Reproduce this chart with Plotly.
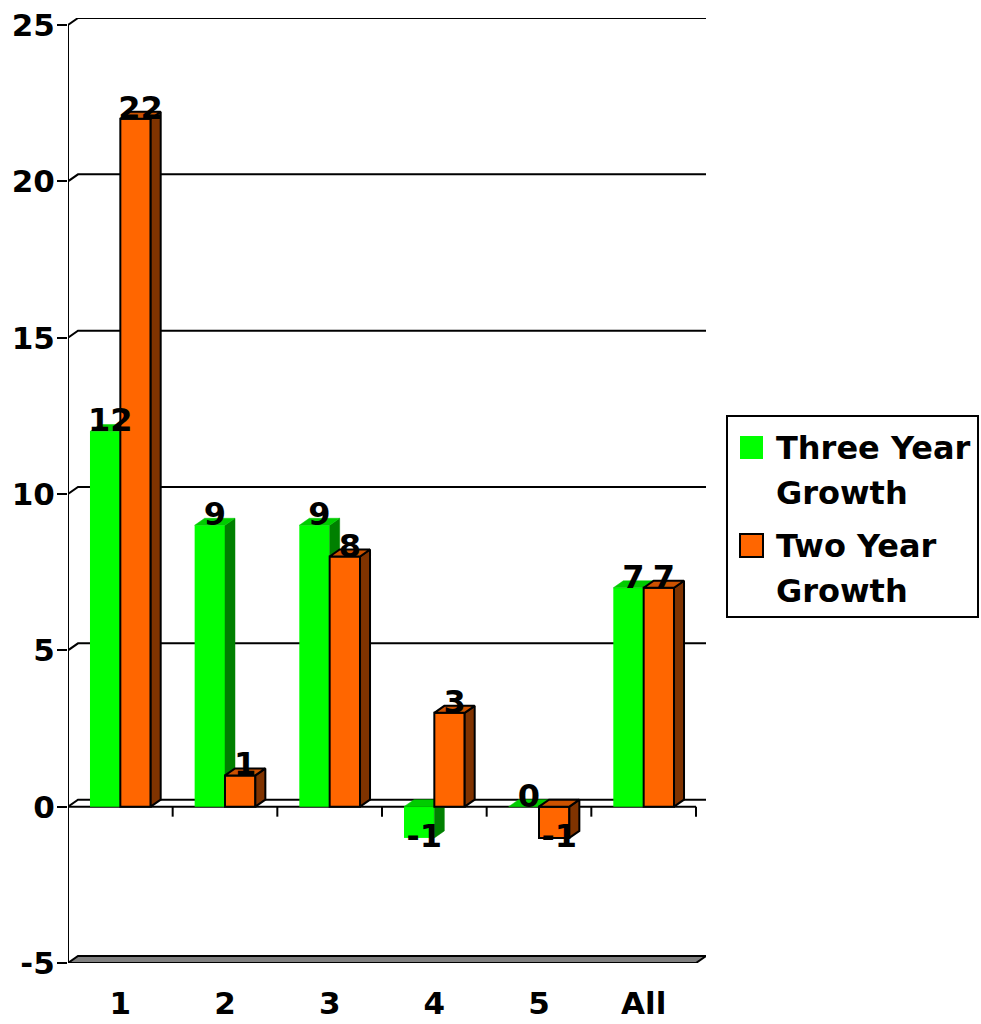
import plotly.graph_objects as go

# ---------------- data ----------------
categories = ["1", "2", "3", "4", "5", "All"]
three_year = [12, 9, 9, -1, 0, 7]
two_year = [22, 1, 8, 3, -1, 7]
y_tick_vals = [-5, 0, 5, 10, 15, 20, 25]
legend_lines = [["Three Year", "Growth"], ["Two Year", "Growth"]]

# ---------------- geometry / style ----------------
FONT = "DejaVu Sans, Liberation Sans, Arial, sans-serif"
W, H = 981, 1024
ML, MR, MT, MB = 68, 275, 18, 61
plot_w = W - ML - MR
plot_h = H - MT - MB
DEPTH_X_PX, DEPTH_Y_PX = 10, 7
n = len(categories)
XMIN, XMAX0 = -0.5, n - 0.5
YMIN, YMAX0 = min(y_tick_vals), max(y_tick_vals)
DX = DEPTH_X_PX * (XMAX0 - XMIN) / (plot_w - DEPTH_X_PX)
DY = DEPTH_Y_PX * (YMAX0 - YMIN) / (plot_h - DEPTH_Y_PX)
PX_Y = (plot_h - DEPTH_Y_PX) / (YMAX0 - YMIN)  # px per unit
BAR_W = 0.29

series = [
    dict(vals=three_year, offset=-BAR_W, front="#00FF00", top="#00CC00", side="#008000",
         line=None, xa="x", ya="y"),
    dict(vals=two_year, offset=0.0, front="#FF6600", top="#CC5200", side="#803300",
         line="black", xa="x2", ya="y2"),
]

fig = go.Figure()

for s in series:
    xs = list(range(n))
    fig.add_trace(go.Bar(
        x=xs, y=s["vals"], width=BAR_W, offset=s["offset"],
        marker=dict(color=s["front"],
                    line=dict(color=s["line"] or s["front"], width=2 if s["line"] else 0)),
        xaxis=s["xa"], yaxis=s["ya"], showlegend=False, hoverinfo="skip",
    ))
    tx, ty, sx, sy = [], [], [], []
    for i, v in zip(xs, s["vals"]):
        top, bot = max(v, 0), min(v, 0)
        x0 = i + s["offset"]
        x1 = x0 + BAR_W
        tx += [x0, x1, x1 + DX, x0 + DX, x0, None]
        ty += [top, top, top + DY, top + DY, top, None]
        sx += [x1, x1 + DX, x1 + DX, x1, x1, None]
        sy += [bot, bot + DY, top + DY, top, bot, None]
    lc = s["line"] or None
    for px_, py_, col in ((sx, sy, s["side"]), (tx, ty, s["top"])):
        fig.add_trace(go.Scatter(
            x=px_, y=py_, mode="lines", fill="toself", fillcolor=col,
            line=dict(color=lc if lc else col, width=2 if lc else 0.5),
            xaxis=s["xa"], yaxis=s["ya"], showlegend=False, hoverinfo="skip",
        ))

# data labels
lx, ly, lt = [], [], []
for s in series:
    for i, v in enumerate(s["vals"]):
        lx.append(i + s["offset"] + BAR_W / 2 + DX / 2)
        ly.append(v + (8 / PX_Y if v >= 0 else -1 / PX_Y))
        lt.append(str(v))
fig.add_trace(go.Scatter(
    x=lx, y=ly, text=lt, mode="text", textposition="middle center",
    textfont=dict(family=FONT, size=32, color="black", weight="bold"),
    xaxis="x2", yaxis="y2", showlegend=False, hoverinfo="skip",
))

# ---------------- axes frame (shapes) ----------------
shapes = []
for v in y_tick_vals:
    if v == YMIN:
        continue
    shapes.append(dict(
        type="path", xref="x", yref="y", layer="below",
        path=f"M{XMIN},{v} L{XMIN + DX},{v + DY} L{XMAX0 + DX},{v + DY}",
        line=dict(color="black", width=2)))
shapes.append(dict(
    type="path", xref="x", yref="y", layer="below",
    path=(f"M{XMIN},{YMIN} L{XMAX0},{YMIN} L{XMAX0 + DX},{YMIN + DY} "
          f"L{XMIN + DX},{YMIN + DY} Z"),
    fillcolor="#808080", line=dict(color="black", width=2)))
shapes.append(dict(type="line", xref="x", yref="y", layer="below",
                   x0=XMIN, x1=XMAX0, y0=0, y1=0, line=dict(color="black", width=2)))
TICK = 10 / PX_Y
shapes.append(dict(type="line", xref="x", yref="y", layer="above",
                   x0=XMIN, x1=XMIN, y0=YMIN - TICK, y1=YMAX0, line=dict(color="black", width=2)))
for k in range(1, n + 1):
    b = XMIN + k
    for base in (0, YMIN):
        shapes.append(dict(type="line", xref="x", yref="y", layer="below",
                           x0=b, x1=b, y0=base, y1=base - TICK,
                           line=dict(color="black", width=2)))

# ---------------- manual legend ----------------
def xp(px):
    return (px - ML) / plot_w


def yp(py):
    return (H - MB - py) / plot_h


shapes.append(dict(type="rect", xref="paper", yref="paper", layer="above",
                   x0=xp(727), x1=xp(978), y0=yp(617), y1=yp(416),
                   fillcolor="white", line=dict(color="black", width=2)))
sq_tops = [436, 534]
for s, t in zip(series, sq_tops):
    shapes.append(dict(type="rect", xref="paper", yref="paper", layer="above",
                       x0=xp(740), x1=xp(763), y0=yp(t + 23), y1=yp(t),
                       fillcolor=s["front"],
                       line=dict(color=s["line"] or s["front"], width=2 if s["line"] else 0)))

annotations = []
line_centers = [[448, 493], [546, 591]]
for lines, centers in zip(legend_lines, line_centers):
    for txt, c in zip(lines, centers):
        annotations.append(dict(
            x=xp(774), y=yp(c), xref="paper", yref="paper", text=txt,
            showarrow=False, xanchor="left", yanchor="middle",
            font=dict(family=FONT, size=32, color="black", weight="bold")))

axis_font = dict(family=FONT, size=31, color="black", weight="bold")
fig.update_layout(
    width=W, height=H,
    margin=dict(l=ML, r=MR, t=MT, b=MB, pad=0, autoexpand=False),
    paper_bgcolor="white", plot_bgcolor="white",
    barmode="overlay",
    showlegend=False,
    xaxis=dict(range=[XMIN, XMAX0 + DX], tickvals=list(range(n)), ticktext=categories,
               ticks="", showline=False, showgrid=False, zeroline=False, automargin=False,
               tickfont=axis_font, ticklabelstandoff=19, fixedrange=True),
    yaxis=dict(range=[YMIN, YMAX0 + DY], tickvals=y_tick_vals,
               ticktext=[str(v) for v in y_tick_vals],
               ticks="outside", ticklen=10, tickwidth=2, tickcolor="black",
               showline=False, showgrid=False, zeroline=False, automargin=False,
               tickfont=axis_font, ticklabelstandoff=-4, fixedrange=True),
    xaxis2=dict(range=[XMIN, XMAX0 + DX], overlaying="x", visible=False, fixedrange=True),
    yaxis2=dict(range=[YMIN, YMAX0 + DY], overlaying="y", visible=False, fixedrange=True),
    shapes=shapes,
    annotations=annotations,
)

fig.write_html("out.html")
